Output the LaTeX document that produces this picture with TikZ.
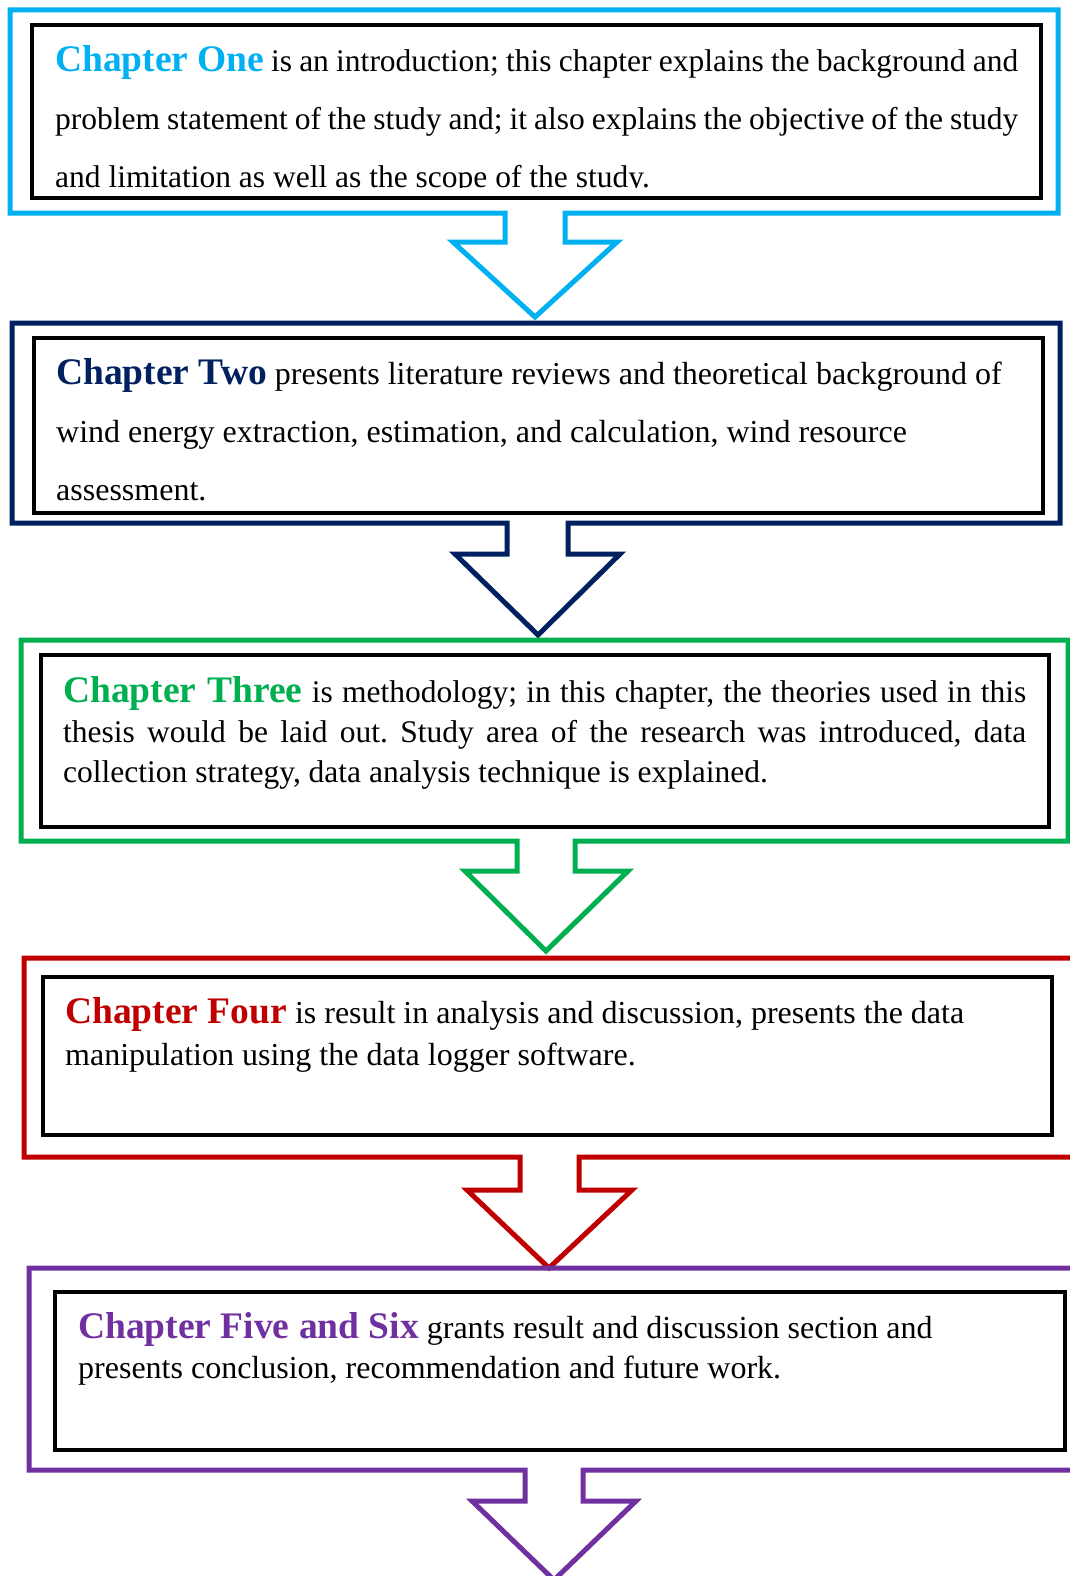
\documentclass[tikz,border=0pt]{standalone}
\usepackage{fontspec}
\setmainfont{Liberation Serif}
\usepackage{tikz}
\usetikzlibrary{positioning}

\definecolor{oneblue}{HTML}{00B0F0}
\definecolor{twonavy}{HTML}{002060}
\definecolor{threegreen}{HTML}{00B050}
\definecolor{fourred}{HTML}{C00000}
\definecolor{fivepurple}{HTML}{7030A0}

\newcommand{\chaptag}[2]{\textcolor{#1}{\fontsize{37.5}{37.5}\selectfont\bfseries #2}}

\begin{document}
\frenchspacing
\begin{tikzpicture}[
    x=1pt, y=-1pt,
    outline/.style={line width=5pt, miter limit=10},
    innerbox/.style={draw=black, line width=3.5pt},
    bodytext/.style={anchor=base west, inner sep=0pt, text width=#1},
    wide/.style={bodytext=963pt, align=justify},
    ragged/.style={bodytext=1000pt, align=flush left}
]
\useasboundingbox (0,0) rectangle (1070,1576);
\clip (0,0) rectangle (1070,1576);

% Chapter one
\draw[outline, oneblue] (10,10) -- (1058,10) -- (1058,213) -- (565,213) -- (565,242) -- (617,242)
    -- (535,317) -- (453,242) -- (505,242) -- (505,213) -- (10,213) -- cycle;
\draw[innerbox] (32,25) rectangle (1041,198);
\begin{scope}
\clip (32,25) rectangle (1041,187);
\node[wide, font=\fontsize{31.5}{58}\selectfont] (ch1) at (55,72)
    {\chaptag{oneblue}{Chapter One} is an introduction; this chapter explains the background and\linebreak
     problem statement of the study and; it also explains the objective of the study\linebreak
     and limitation as well as the scope of the study.};
\end{scope}

% Chapter two
\draw[outline, twonavy] (12,323) -- (1060,323) -- (1060,523) -- (568,523) -- (568,554) -- (620,554)
    -- (538,635) -- (455,554) -- (507,554) -- (507,523) -- (12,523) -- cycle;
\draw[innerbox] (34,338) rectangle (1043,513);
\node[ragged, font=\fontsize{32}{58}\selectfont] (ch2) at (56,384)
    {\chaptag{twonavy}{Chapter Two} presents literature reviews and theoretical background of\\
     wind energy extraction, estimation, and calculation, wind resource\\
     assessment.};

% Chapter three
\draw[outline, threegreen] (21,640) -- (1068,640) -- (1068,841) -- (575,841) -- (575,871) -- (628,871)
    -- (546,951) -- (465,871) -- (517,871) -- (517,841) -- (21,841) -- cycle;
\draw[innerbox] (41,655) rectangle (1049,827);
\node[wide, font=\fontsize{31.5}{40}\selectfont] (ch3) at (63,702)
    {\chaptag{threegreen}{Chapter Three} is methodology; in this chapter, the theories used in this\linebreak
     thesis would be laid out. Study area of the research was introduced, data\linebreak
     collection strategy, data analysis technique is explained.};

% Chapter four
\draw[outline, fourred] (24,958) -- (1085,958) -- (1085,1157) -- (579,1157) -- (579,1190) -- (632,1190)
    -- (549,1268) -- (467,1190) -- (520,1190) -- (520,1157) -- (24,1157) -- cycle;
\draw[innerbox] (43,977) rectangle (1052,1135);
\node[ragged, font=\fontsize{32}{42}\selectfont] (ch4) at (65,1023)
    {\chaptag{fourred}{Chapter Four} is result in analysis and discussion, presents the data\\
     manipulation using the data logger software.};

% Chapter five and six
\draw[outline, fivepurple] (29,1268) -- (1085,1268) -- (1085,1470) -- (583,1470) -- (583,1501) -- (636,1501)
    -- (554,1580) -- (472,1501) -- (525,1501) -- (525,1470) -- (29,1470) -- cycle;
\draw[innerbox] (55,1292) rectangle (1065,1450);
\node[ragged, font=\fontsize{32}{40}\selectfont] (ch5) at (78,1338)
    {\chaptag{fivepurple}{Chapter Five and Six} grants result and discussion section and\\
     presents conclusion, recommendation and future work.};

\end{tikzpicture}
\end{document}
